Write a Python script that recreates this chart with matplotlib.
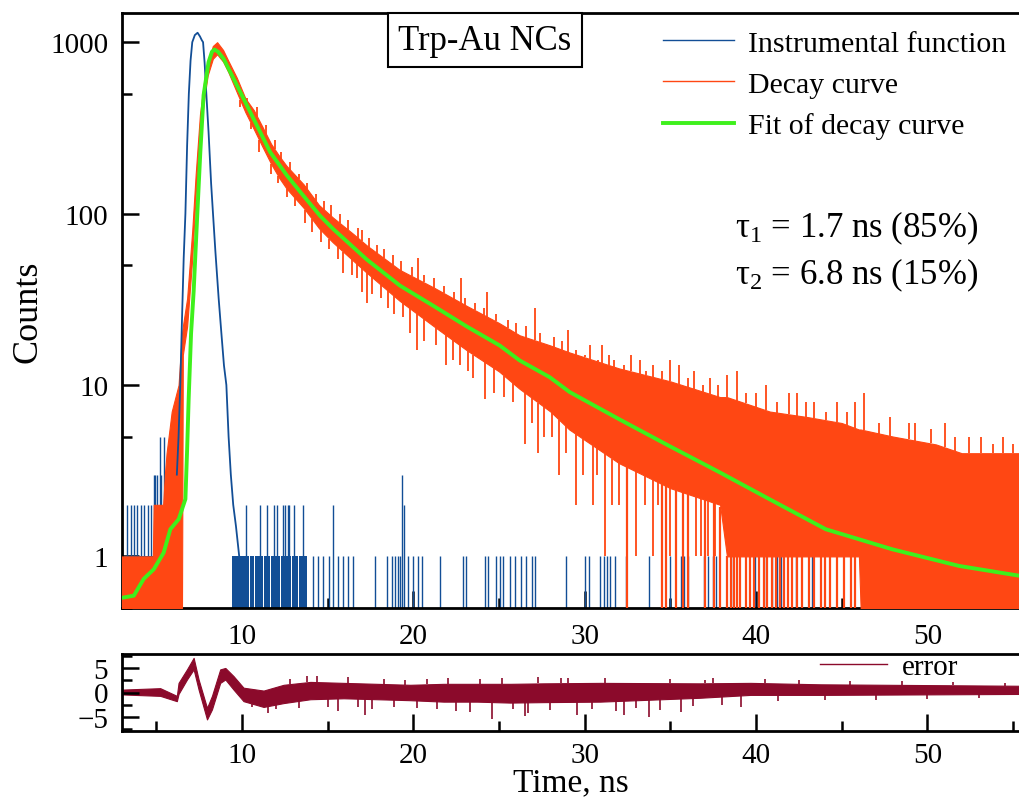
import numpy as np
import matplotlib.pyplot as plt
from matplotlib.lines import Line2D
from matplotlib.ticker import FixedLocator, FixedFormatter, NullFormatter

plt.rcParams['font.family'] = ['Liberation Serif', 'DejaVu Serif']
plt.rcParams['mathtext.default'] = 'regular'

# ---- instrumental function (IRF), counts ----
irf_x = [6.20, 6.30, 6.40, 6.50, 6.60, 6.70, 6.80, 6.90, 7.00, 7.10, 7.25, 7.41,
         7.55, 7.65, 7.73, 7.82, 7.92, 8.05, 8.20, 8.31, 8.45, 8.64, 8.80, 8.95,
         9.09, 9.22, 9.35, 9.49, 9.65, 9.84]
irf_y = [3, 5, 10, 24, 55, 100, 250, 500, 780, 1000, 1100, 1135,
         1080, 1030, 1000, 760, 500, 300, 150, 100, 60, 32, 20, 13,
         10, 5, 3, 2, 1.5, 1]

# single-bin IRF noise (x, counts)
irf_spike_x = [3.3, 3.5, 3.7, 3.9, 4.1, 4.3, 4.5, 4.7, 4.85, 4.95, 5.05, 5.2, 5.3,
               5.43, 5.55, 5.7, 5.85, 6.0,
               10.25, 11.07, 11.46, 11.88, 12.04, 12.39, 12.52, 12.66, 12.77, 13.05,
               13.55, 14.17, 14.46, 14.72, 15.05, 15.34, 15.63, 15.92, 16.21, 16.5,
               17.76, 18.44, 18.74, 18.93, 19.12, 19.22, 19.35, 19.47, 19.70, 19.99,
               20.29, 20.48, 21.55, 22.91, 23.10, 24.17, 24.36, 24.85, 25.04, 25.23,
               25.63, 25.92, 26.3, 26.6, 26.9, 27.1, 28.89, 30.0, 30.25, 30.9, 31.1,
               31.3, 31.5, 31.75, 32.42, 33.78, 34.95, 35.63, 35.82, 36.01, 36.98,
               37.18, 37.47, 37.67, 38.63, 39.95, 40.6, 40.9, 41.2, 41.45, 42.32, 43.29]
irf_spike_y = [2, 2, 2, 2, 2, 2, 2, 2, 3, 3, 3, 5, 3,
               5, 3, 4, 4, 6,
               2, 2, 2, 2, 2, 2, 2, 2, 2, 2,
               2, 1, 1, 1, 1, 2, 1, 1, 1, 1,
               1, 1, 1, 1, 1, 1, 3, 2, 1, 1,
               1, 1, 1, 1, 1, 1, 1, 1, 1, 1,
               1, 1, 1, 1, 1, 1, 1, 1, 1, 1, 1,
               1, 1, 1, 1, 1, 1, 1, 1, 1, 1,
               1, 1, 1, 1, 1, 1, 1, 1, 1, 1, 1]
irf_band = [(3.0, 6.2), (9.4, 13.8)]            # runs of 0/1 counts
irf_band_gaps = [10.44, 10.72, 11.26, 11.69, 12.23, 12.91, 13.3]

# ---- decay curve: core envelope of the noisy trace ----
decay_x = [3.0, 4.8, 4.85, 5.4, 5.5, 5.6, 5.9, 6.3, 6.5, 6.55, 6.8, 7.1, 7.3,
           7.55, 7.8, 8.0, 8.3, 8.55, 8.9, 9.2, 9.7, 10.2, 10.7, 11.2, 11.7,
           12.2, 12.6, 13.6, 14.5, 15.3, 16.5, 17.3, 19.2, 21.2, 23.1, 25.0,
           26.2, 28.0, 29.1, 32.0, 35.0, 37.9, 38.3, 40.8, 43.0, 45.0, 46.0,
           46.1, 48.0, 50.5, 52.0, 55.4]
decay_hi = [1, 1, 2, 2, 3, 4, 7, 10, 20, 22, 32, 80, 170,
            380, 600, 760, 950, 1000, 900, 780, 620, 470, 400, 320, 255,
            215, 190, 148, 112, 95, 76, 65, 47, 37, 29, 23,
            19.5, 17, 15.5, 12.5, 10.5, 8.5, 8.5, 7, 6.5, 6, 5.5,
            5.5, 5, 4.5, 4, 4]
decay_lo = [0.5, 0.5, 0.5, 0.5, 0.5, 0.5, 0.5, 0.5, 0.5, 15, 22, 55, 130,
            290, 470, 640, 800, 850, 770, 670, 510, 390, 310, 245, 195,
            160, 140, 108, 82, 68, 53, 45, 31, 22, 16, 12,
            9.5, 7, 5.5, 3.5, 2.5, 2, 1, 1, 1, 1, 1,
            0.5, 0.5, 0.5, 0.5, 0.5]
# single-bin excursions above / below the core band
decay_up_x = [9.6, 10.3, 10.9, 11.4, 11.9, 12.3, 12.8, 13.3, 13.8, 14.3, 14.8,
              15.2, 15.7, 16.2, 16.8, 17.0, 17.4, 17.9, 18.3, 18.8, 19.3, 19.9,
              20.3, 20.6, 21.2, 21.8, 22.4, 22.8, 23.0, 23.6, 24.1, 24.3, 24.8,
              25.5, 26.0, 26.6, 27.1, 27.4, 28.2, 28.7, 29.0, 29.5, 30.0, 30.3,
              30.8, 31.0, 31.4, 31.7, 32.3, 32.7, 33.2, 33.6, 34.0, 34.5, 35.0,
              35.5, 36.0, 36.4, 36.9, 37.3, 37.8, 38.3, 38.9, 39.4, 40.0, 40.6,
              41.2, 41.9, 42.4, 42.9, 43.4, 44.1, 44.7, 45.3, 45.8, 46.3, 47.2,
              47.8, 48.9, 49.3, 50.2, 51.0, 51.6, 52.4, 53.1, 53.8, 54.4, 55.0]
decay_up_y = [640, 470, 420, 330, 270, 230, 200, 170, 150, 130, 118,
              112, 100, 92, 82, 80, 72, 66, 62, 57, 53, 49,
              55, 44, 42, 38, 35, 42, 32, 30, 28, 35, 26,
              24, 23, 22, 28, 20, 19, 18, 21, 16, 15, 17,
              14, 17, 15, 14, 13, 15, 14, 12, 13, 12, 14,
              13, 11, 12, 10, 11, 10, 11.5, 12, 9, 9, 10,
              8, 9, 9, 8, 8, 7, 8, 7, 8, 9, 6,
              6.5, 6, 6, 5.5, 6, 5, 5, 5, 4.5, 5, 4.5]
decay_dn_x = [9.9, 10.5, 11.0, 11.7, 12.1, 12.6, 13.1, 13.7, 14.1, 14.6, 15.1,
              15.6, 15.9, 16.4, 16.7, 17.0, 17.3, 17.6, 18.1, 18.5, 18.9, 19.4,
              19.8, 20.2, 20.6, 21.3, 21.9, 22.3, 22.7, 23.2, 23.5, 24.2, 24.7,
              25.3, 25.8, 26.5, 26.9, 27.3, 27.6, 28.1, 28.5, 28.9, 29.5, 29.9,
              30.5, 30.7, 31.2, 31.6, 32.0, 33.0, 33.5, 34.0, 34.3, 35.0, 36.0,
              36.5, 36.8, 37.2, 37.6]
decay_dn_y = [420, 310, 230, 170, 150, 125, 110, 88, 78, 68, 62,
              54, 45, 44, 42, 35, 30, 34, 32, 28, 26, 25,
              20, 16, 18, 17, 13, 14, 13, 12, 11, 8.3, 9,
              8.5, 8, 4.5, 6, 4, 5, 5, 3, 4, 2, 3,
              2, 3, 1, 2, 2, 1, 2, 1, 2, 1, 1,
              1, 1, 1, 1]
decay_zero_x = [32.47, 34.52, 34.75, 35.30, 35.74, 36.01, 36.99, 37.53, 37.92,
                38.31, 38.51, 38.70, 38.90, 39.09, 39.44, 39.67, 39.87, 40.16,
                40.49, 40.65, 40.94, 41.19, 41.42, 41.62, 41.85, 42.11, 42.40,
                42.69, 43.08, 43.37, 43.76, 44.05, 44.34, 44.73, 45.12, 45.51,
                45.80]

# ---- fit of decay curve ----
fit_x = [3.10, 3.69, 4.27, 4.85, 5.43, 5.82, 6.31, 6.70, 6.80, 6.89, 7.03, 7.18,
         7.38, 7.57, 7.76, 8.05, 8.25, 8.40, 8.60, 8.93, 9.71, 10.68, 11.65,
         12.62, 13.59, 14.56, 15.34, 17.28, 19.22, 21.16, 23.10, 25.04, 26.21,
         27.96, 29.12, 32.03, 34.95, 37.86, 40.77, 44.07, 47.95, 51.84, 55.4]
fit_y = [0.576, 0.59, 0.74, 0.84, 1.05, 1.44, 1.65, 2.16, 4.2, 8.3, 20, 35,
         93, 228, 490, 765, 880, 906, 880, 800, 559, 357, 228,
         167, 127, 97, 81, 54, 38, 29, 22, 17, 13.9,
         11.1, 9.1, 6.3, 4.4, 3.1, 2.16, 1.44, 1.10, 0.88, 0.77]

# ---- residuals (error) ----
res_x = [3.0, 5.23, 6.2, 6.3, 6.79, 7.18, 7.47, 7.96, 8.25, 8.73, 9.03, 9.51,
         10.09, 11.26, 12.43, 13.99, 15.93, 17.88, 19.82, 21.77, 23.72, 25.66,
         27.6, 30.9, 36.7, 39.67, 43.76, 55.4]
res_hi = [0.6, 0.9, -0.7, 2.0, 4.8, 7.2, 2.7, -3.2, -0.7, 4.8, 5.1, 3.4,
          1.0, 0.4, 1.6, 2.2, 2.0, 1.8, 1.6, 1.8, 1.8, 1.8,
          1.9, 2.0, 1.9, 2.0, 1.7, 1.4]
res_lo = [-0.4, -0.7, -1.8, -0.3, 2.7, 4.8, 0.6, -5.6, -3.5, 2.0, 2.7, 0.6,
          -1.8, -3.0, -2.2, -1.4, -1.2, -1.4, -1.6, -1.9, -1.9, -2.1,
          -2.0, -1.9, -1.1, -0.5, -0.5, -0.3]
res_spike_x = [10.6, 11.5, 12.0, 12.8, 13.3, 13.8, 14.4, 15.0, 15.6, 16.2, 16.8,
               17.2, 17.6, 18.3, 18.9, 19.5, 20.2, 20.8, 21.4, 22.0, 22.5, 23.3,
               23.9, 24.6, 25.2, 25.8, 26.5, 26.7, 27.3, 28.0, 28.6, 29.0, 29.55,
               30.4, 31.2, 31.8, 32.3, 33.0, 33.74, 34.4, 35.0, 35.6, 36.3, 37.0,
               37.5, 38.0, 39.1, 40.5, 41.3, 42.5, 44.0, 45.5, 47.0, 48.5, 50.0,
               51.5, 53.0, 54.5]
res_spike_y = [-3.0, -4.2, -3.5, 2.8, -3.2, 3.4, 3.5, -3.0, -3.8, 3.2, -3.0,
               -4.6, -3.4, 2.8, -3.0, 2.6, -3.2, 2.8, -3.4, 3.0, -3.8, -4.0,
               2.9, -5.6, 3.0, -3.5, -4.8, -4.2, 3.2, -3.6, 3.0, 3.1, -4.6,
               -3.4, 3.0, -3.8, -4.6, -3.2, -5.0, -3.7, 2.8, -4.0, -2.8, 2.6,
               3.0, -2.6, -3.0, 2.8, -1.8, 2.6, -1.6, 2.4, -1.5, 2.3, -1.4,
               2.2, -1.2, 2.0]

blue = '#124e96'
orange = '#ff4713'
green = '#3ef01c'
wine = '#8b0a2b'

fig = plt.figure(figsize=(10.2, 8.03), dpi=100)
ax = fig.add_axes([122 / 1020, 1 - 609 / 803, 1 - 122 / 1020, 595 / 803])
ax2 = fig.add_axes([122 / 1020, 1 - 732 / 803, 1 - 122 / 1020, 77 / 803])

ymin = 0.5

# IRF
for a, b in irf_band:
    cuts = [a] + [g for g in irf_band_gaps if a < g < b] + [b]
    for c0, c1 in zip(cuts[:-1], cuts[1:]):
        ax.fill_between([c0 + 0.03, c1 - 0.03], ymin, 1, color=blue, lw=0, zorder=2)
ax.vlines(irf_spike_x, ymin, irf_spike_y, color=blue, lw=1.0, zorder=2)
ax.plot(irf_x, irf_y, color=blue, lw=1.3, zorder=3.5)

# decay curve
ax.fill_between(decay_x, decay_lo, decay_hi, color=orange, lw=0.8, zorder=3)
log_lo = np.log10(decay_lo)
log_hi = np.log10(decay_hi)
up_base = 10 ** np.interp(decay_up_x, decay_x, log_hi)
dn_base = 10 ** np.interp(decay_dn_x, decay_x, log_lo)
zero_base = 10 ** np.interp(decay_zero_x, decay_x, log_lo)
ax.vlines(decay_up_x, up_base, decay_up_y, color=orange, lw=1.3, zorder=3)
ax.vlines(decay_dn_x, decay_dn_y, dn_base, color=orange, lw=1.3, zorder=3)
ax.vlines(decay_zero_x, ymin, zero_base, color=orange, lw=1.6, zorder=3)

# fit
ax.plot(fit_x, fit_y, color=green, lw=2.8, zorder=4)

ax.set_yscale('log')
ax.set_xlim(3.0, 55.4)
ax.set_ylim(ymin, 1480)
ax.yaxis.set_major_locator(FixedLocator([1, 10, 100, 1000]))
ax.yaxis.set_major_formatter(FixedFormatter(['1', '10', '100', '1000']))
ax.yaxis.set_minor_locator(FixedLocator([0.5, 5, 50, 500]))
ax.yaxis.set_minor_formatter(NullFormatter())

for a in (ax, ax2):
    a.xaxis.set_major_locator(FixedLocator([10, 20, 30, 40, 50]))
    a.xaxis.set_minor_locator(FixedLocator([5, 15, 25, 35, 45, 55]))
    a.spines['right'].set_visible(False)
    for s in ('left', 'top', 'bottom'):
        a.spines[s].set_linewidth(2.0)
    a.tick_params(which='both', direction='in', top=False, right=False,
                  width=1.8, labelsize=21)
    a.tick_params(which='major', length=12)
    a.tick_params(which='minor', length=7)
    a.tick_params(axis='y', pad=10)

ax.tick_params(axis='x', pad=11)
ax2.tick_params(axis='x', pad=8)

ax.set_ylabel('Counts', fontsize=26, labelpad=4)

ax.text(0.404, 0.954, 'Trp-Au NCs', transform=ax.transAxes, fontsize=25,
        ha='center', va='center',
        bbox=dict(boxstyle='square,pad=0.3', fc='white', ec='black', lw=1.5))
ax.text(0.683, 0.639, 'τ$_1$ = 1.7 ns (85%)', transform=ax.transAxes,
        fontsize=25, ha='left', va='center')
ax.text(0.683, 0.561, 'τ$_2$ = 6.8 ns (15%)', transform=ax.transAxes,
        fontsize=25, ha='left', va='center')

handles = [Line2D([], [], color=blue, lw=1.0),
           Line2D([], [], color=orange, lw=1.0),
           Line2D([], [], color=green, lw=2.8)]
ax.legend(handles, ['Instrumental function', 'Decay curve', 'Fit of decay curve'],
          loc='upper left', bbox_to_anchor=(0.602, 0.972), frameon=False,
          fontsize=21.5, borderpad=0, borderaxespad=0, handlelength=2.4,
          handletextpad=0.45, labelspacing=0.48)

# residuals
ax2.fill_between(res_x, res_lo, res_hi, color=wine, lw=0.8)
spike_lo = np.interp(res_spike_x, res_x, res_lo)
spike_hi = np.interp(res_spike_x, res_x, res_hi)
res_base = np.where(np.array(res_spike_y) < 0, spike_lo, spike_hi)
ax2.vlines(res_spike_x, res_base, res_spike_y, color=wine, lw=1.2)
ax2.set_xlim(3.0, 55.4)
ax2.set_ylim(-8, 8)
ax2.yaxis.set_major_locator(FixedLocator([-5, 0, 5]))
ax2.yaxis.set_major_formatter(FixedFormatter(['\u22125', '0', '5']))
ax2.yaxis.set_minor_locator(FixedLocator([-7.5, -2.5, 2.5, 7.5]))
ax2.set_xlabel('Time, ns', fontsize=24, labelpad=-1)
ax2.legend([Line2D([], [], color=wine, lw=1.0)], ['error'], loc='upper left',
           bbox_to_anchor=(0.777, 1.0), frameon=False, fontsize=21,
           borderpad=0, borderaxespad=0, handlelength=2.3, handletextpad=0.5)

fig.savefig('out.png', dpi=100)
